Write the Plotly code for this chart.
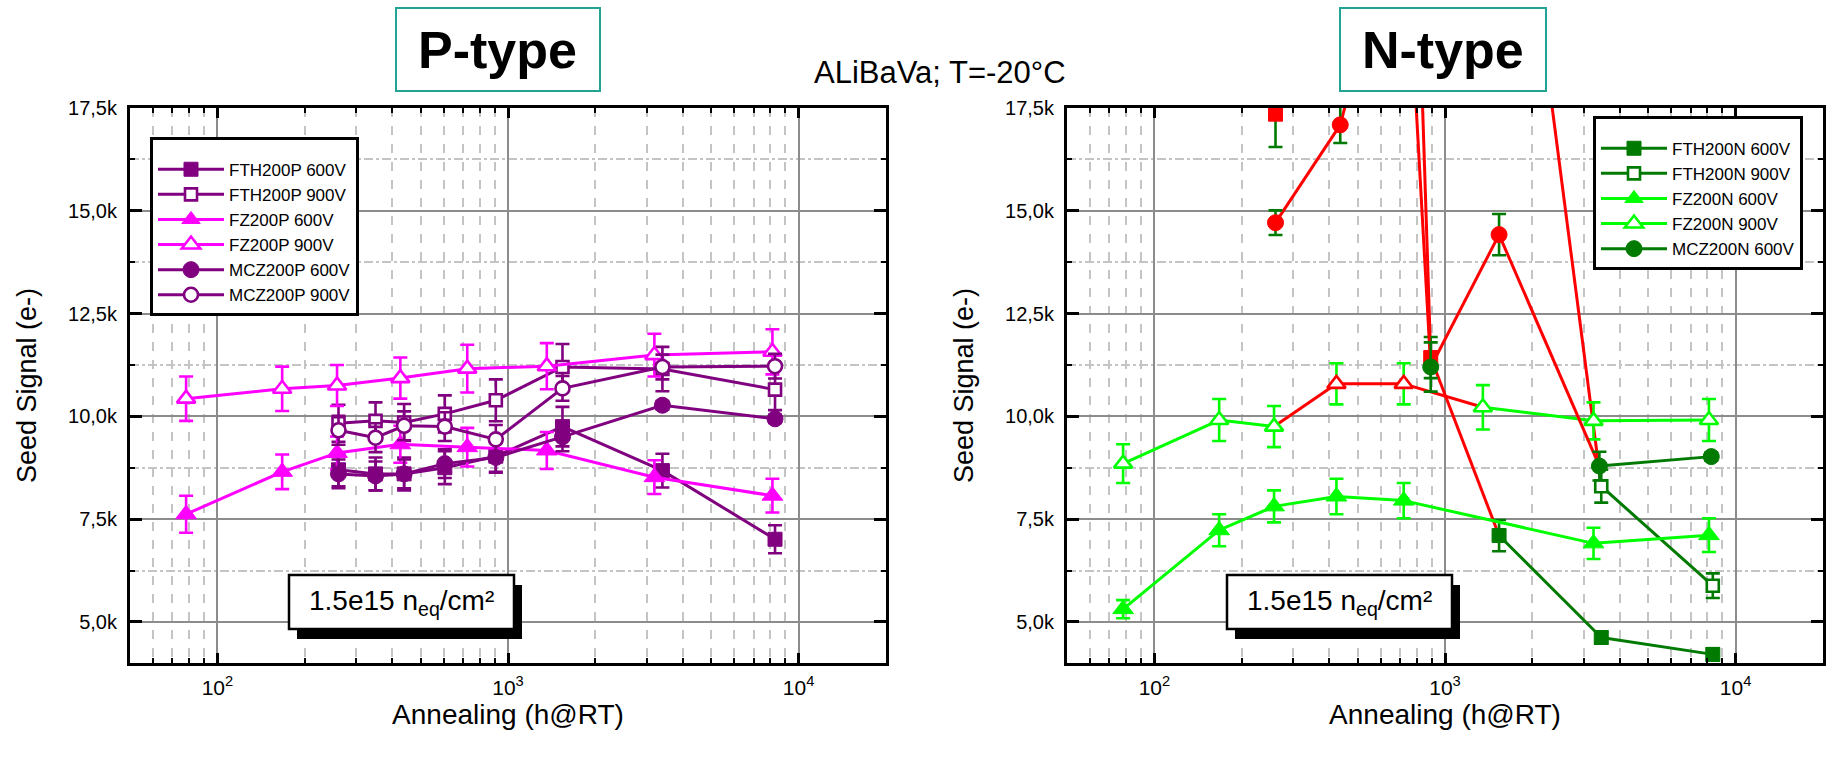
import math
import plotly.graph_objects as go

W, H = 1829, 757
FONT = "Liberation Sans, Arial, sans-serif"

# ---------------- P-type sensors (annealing time h@RT, seed signal in k e-) ----------------
p_time_fz = [78, 167, 258, 426, 724, 1360, 3190, 8130]
p_time_fth = [261, 350, 439, 606, 908, 1540, 3400, 8300]

p_fth600 = [8.70, 8.60, 8.60, 8.75, 9.03, 9.75, 8.68, 7.01]
p_fth600_err = [0.40, 0.40, 0.40, 0.40, 0.40, 0.48, 0.41, 0.34]
p_fth900 = [9.83, 9.89, 9.85, 10.06, 10.39, 11.20, 11.15, 10.65]
p_fth900_err = [0.45, 0.45, 0.45, 0.45, 0.51, 0.56, 0.54, 0.50]
p_fz600 = [7.62, 8.65, 9.11, 9.32, 9.25, 9.17, 8.52, 8.07]
p_fz600_err = [0.45, 0.42, 0.40, 0.45, 0.47, 0.45, 0.41, 0.41]
p_fz900 = [10.43, 10.67, 10.75, 10.93, 11.16, 11.22, 11.49, 11.57]
p_fz900_err = [0.54, 0.54, 0.50, 0.50, 0.58, 0.56, 0.52, 0.55]
p_mcz600 = [8.60, 8.55, 8.60, 8.85, 9.00, 9.50, 10.27, 9.94]
p_mcz600_err = [0.35, 0.35, 0.35, 0.35, 0.35, 0.35, 0.10, 0.10]
p_mcz900 = [9.66, 9.48, 9.77, 9.75, 9.44, 10.68, 11.20, 11.22]
p_mcz900_err = [0.35, 0.35, 0.35, 0.35, 0.35, 0.30, 0.30, 0.30]

# ---------------- N-type sensors ----------------
# flag 1 = point/segment drawn in red
n_fth600_t = [261, 720, 893, 1535, 3450, 8350]
n_fth600 = [17.35, 31.8, 11.43, 7.10, 4.62, 4.21]
n_fth600_err = [0.80, 0.50, 0.50, 0.38, 0.15, 0.15]
n_fth600_red = [1, 1, 1, 0, 0, 0]

n_fth900_t = [1540, 3450, 8350]
n_fth900 = [27.4, 8.30, 5.88]
n_fth900_err = [0.50, 0.40, 0.30]
n_fth900_red = [1, 0, 0]

n_fz600_t = [78, 167, 258, 423, 721, 3245, 8100]
n_fz600 = [5.31, 7.23, 7.81, 8.05, 7.95, 6.91, 7.11]
n_fz600_err = [0.22, 0.39, 0.39, 0.43, 0.43, 0.38, 0.41]
n_fz600_red = [0, 0, 0, 0, 0, 0, 0]

n_fz900_t = [78, 167, 258, 423, 721, 1350, 3245, 8100]
n_fz900 = [8.85, 9.91, 9.75, 10.79, 10.79, 10.22, 9.89, 9.91]
n_fz900_err = [0.47, 0.51, 0.50, 0.50, 0.50, 0.54, 0.45, 0.51]
n_fz900_red = [0, 0, 0, 1, 1, 0, 0, 0]

n_mcz600_t = [261, 436, 720, 893, 1535, 3400, 8250]
n_mcz600 = [14.71, 17.09, 23.0, 11.20, 14.42, 8.79, 9.02]
n_mcz600_err = [0.30, 0.44, 0.50, 0.60, 0.50, 0.35, 0.10]
n_mcz600_red = [1, 1, 1, 0, 1, 0, 0]

# ---------------- axes ----------------
x_range = [50, 20000]
y_range = [4.0, 17.5]
x_major = [100, 1000, 10000]
x_major_text = ["10<sup>2</sup>", "10<sup>3</sup>", "10<sup>4</sup>"]
y_major = [5.0, 7.5, 10.0, 12.5, 15.0, 17.5]
y_major_text = ["5,0k", "7,5k", "10,0k", "12,5k", "15,0k", "17,5k"]

PURPLE = "#800080"
MAGENTA = "#ff00ff"
DGREEN = "#007a00"
LIME = "#00ff00"
RED = "#ff0000"
TEAL = "#22a394"


def px_x(v):
    return v / W


def px_y(v):
    return 1 - v / H


fig = go.Figure()


def marker_style(symbol, color, open_):
    size = {"square": 14, "circle": 16, "triangle-up": 18}[symbol]
    if open_:
        return dict(symbol=symbol, size=size - 2, color="white",
                    line=dict(color=color, width=2.6))
    return dict(symbol=symbol, size=size, color=color, line=dict(color=color, width=1))


def add_p(name, t, y, err, color, symbol, open_):
    fig.add_trace(go.Scatter(
        x=t, y=y, name=name, mode="lines+markers",
        line=dict(color=color, width=3),
        marker=marker_style(symbol, color, open_),
        error_y=dict(type="data", array=err, color=color, thickness=2.6, width=7),
        xaxis="x", yaxis="y", legend="legend"))


add_p("FTH200P 600V", p_time_fth, p_fth600, p_fth600_err, PURPLE, "square", False)
add_p("FTH200P 900V", p_time_fth, p_fth900, p_fth900_err, PURPLE, "square", True)
add_p("FZ200P 600V", p_time_fz, p_fz600, p_fz600_err, MAGENTA, "triangle-up", False)
add_p("FZ200P 900V", p_time_fz, p_fz900, p_fz900_err, MAGENTA, "triangle-up", True)
add_p("MCZ200P 600V", p_time_fth, p_mcz600, p_mcz600_err, PURPLE, "circle", False)
add_p("MCZ200P 900V", p_time_fth, p_mcz900, p_mcz900_err, PURPLE, "circle", True)


def add_n(name, t, y, err, red, color, symbol, open_):
    gx, gy, rx, ry = [], [], [], []
    for i in range(len(t) - 1):
        if red[i] or red[i + 1]:
            rx += [t[i], t[i + 1], None]
            ry += [y[i], y[i + 1], None]
        else:
            gx += [t[i], t[i + 1], None]
            gy += [y[i], y[i + 1], None]
    fig.add_trace(go.Scatter(x=gx, y=gy, mode="lines", line=dict(color=color, width=3),
                             showlegend=False, hoverinfo="skip", xaxis="x2", yaxis="y2"))
    fig.add_trace(go.Scatter(x=rx, y=ry, mode="lines", line=dict(color=RED, width=3),
                             showlegend=False, hoverinfo="skip", xaxis="x2", yaxis="y2"))
    base = marker_style(symbol, color, open_)
    cols = [RED if r else color for r in red]
    if open_:
        base["line"] = dict(color=cols, width=2.6)
    else:
        base["color"] = cols
        base["line"] = dict(color=cols, width=1)
    fig.add_trace(go.Scatter(
        x=t, y=y, mode="markers", marker=base, showlegend=False,
        error_y=dict(type="data", array=err, color=color, thickness=2.6, width=7),
        xaxis="x2", yaxis="y2"))
    # legend entry
    fig.add_trace(go.Scatter(
        x=[None], y=[None], name=name, mode="lines+markers",
        line=dict(color=color, width=3), marker=marker_style(symbol, color, open_),
        xaxis="x2", yaxis="y2", legend="legend2"))


add_n("FTH200N 600V", n_fth600_t, n_fth600, n_fth600_err, n_fth600_red, DGREEN, "square", False)
add_n("FTH200N 900V", n_fth900_t, n_fth900, n_fth900_err, n_fth900_red, DGREEN, "square", True)
add_n("FZ200N 600V", n_fz600_t, n_fz600, n_fz600_err, n_fz600_red, LIME, "triangle-up", False)
add_n("FZ200N 900V", n_fz900_t, n_fz900, n_fz900_err, n_fz900_red, LIME, "triangle-up", True)
add_n("MCZ200N 600V", n_mcz600_t, n_mcz600, n_mcz600_err, n_mcz600_red, DGREEN, "circle", False)

x_minor = [m * 10 ** e for e in range(1, 5) for m in range(2, 10)
           if x_range[0] < m * 10 ** e < x_range[1]]
y_minor = [v + 1.25 for v in y_major[:-1]]


def xaxis_cfg(domain, anchor):
    return dict(
        domain=domain, anchor=anchor, type="log",
        range=[math.log10(x_range[0]), math.log10(x_range[1])],
        tickmode="array", tickvals=x_major, ticktext=x_major_text,
        ticks="inside", ticklen=10, tickwidth=2.5, tickcolor="black",
        showline=True, linecolor="black", linewidth=3, mirror="ticks",
        showgrid=True, gridcolor="#8c8c8c", gridwidth=2, zeroline=False,
        minor=dict(tickmode="array", tickvals=x_minor, ticks="inside", ticklen=5,
                   tickwidth=2, tickcolor="black", showgrid=True,
                   gridcolor="#c4c4c4", gridwidth=1.6, griddash="dash"),
        tickfont=dict(family=FONT, size=21, color="black"),
        title=dict(text="Annealing (h@RT)", font=dict(family=FONT, size=28, color="black"),
                   standoff=6),
        automargin=False, ticklabelstandoff=4)


def yaxis_cfg(domain, anchor):
    return dict(
        domain=domain, anchor=anchor, range=y_range,
        tickmode="array", tickvals=y_major, ticktext=y_major_text,
        ticks="inside", ticklen=12, tickwidth=2.5, tickcolor="black",
        showline=True, linecolor="black", linewidth=3, mirror="ticks",
        showgrid=True, gridcolor="#8c8c8c", gridwidth=2, zeroline=False,
        minor=dict(tickmode="array", tickvals=y_minor, ticks="inside", ticklen=5,
                   tickwidth=2, tickcolor="black", showgrid=True,
                   gridcolor="#c4c4c4", gridwidth=1.6, griddash="dashdot"),
        tickfont=dict(family=FONT, size=20, color="black"),
        title=dict(text="Seed Signal (e-)", font=dict(family=FONT, size=27, color="black"),
                   standoff=24),
        automargin=False, ticklabelstandoff=6)


ydom = [px_y(663), px_y(108)]
legend_style = dict(bgcolor="white", bordercolor="black", borderwidth=3,
                    font=dict(family=FONT, size=17, color="black"),
                    xanchor="left", yanchor="top", tracegroupgap=0, itemwidth=66,
                    title=dict(text=" ", font=dict(family=FONT, size=9)))

fig.update_layout(
    width=W, height=H, margin=dict(l=0, r=0, t=0, b=0),
    paper_bgcolor="white", plot_bgcolor="white", template="none",
    xaxis=xaxis_cfg([px_x(130), px_x(886)], "y"),
    yaxis=yaxis_cfg(ydom, "x"),
    xaxis2=xaxis_cfg([px_x(1067), px_x(1823)], "y2"),
    yaxis2=yaxis_cfg(ydom, "x2"),
    legend=dict(x=px_x(150), y=px_y(137), **legend_style),
    legend2=dict(x=px_x(1593), y=px_y(116), **legend_style),
)

shapes = []
annotations = []

# panel headings in framed boxes
for label, x0, x1 in [("P-type", 396, 600), ("N-type", 1340, 1546)]:
    shapes.append(dict(type="rect", xref="paper", yref="paper",
                       x0=px_x(x0), x1=px_x(x1), y0=px_y(91), y1=px_y(8),
                       line=dict(color=TEAL, width=2), fillcolor="white"))
    annotations.append(dict(text="<b>" + label + "</b>", xref="paper", yref="paper",
                            x=px_x((x0 + x1) / 2), y=px_y(50), showarrow=False,
                            xanchor="center", yanchor="middle",
                            font=dict(family=FONT, size=52, color="black")))

annotations.append(dict(text="ALiBaVa; T=-20°C", xref="paper", yref="paper",
                        x=px_x(940), y=px_y(72), showarrow=False,
                        xanchor="center", yanchor="middle",
                        font=dict(family=FONT, size=31, color="black")))

# fluence boxes with drop shadow
for bx in [289, 1227]:
    shapes.append(dict(type="rect", xref="paper", yref="paper", layer="above",
                       x0=px_x(bx + 8), x1=px_x(bx + 233), y0=px_y(639), y1=px_y(585),
                       line=dict(width=0), fillcolor="black"))
    shapes.append(dict(type="rect", xref="paper", yref="paper", layer="above",
                       x0=px_x(bx), x1=px_x(bx + 225), y0=px_y(629), y1=px_y(575),
                       line=dict(color="black", width=2.5), fillcolor="white"))
    annotations.append(dict(text="1.5e15 n<sub>eq</sub>/cm²", xref="paper", yref="paper",
                            x=px_x(bx + 112), y=px_y(602), showarrow=False,
                            xanchor="center", yanchor="middle",
                            font=dict(family=FONT, size=28, color="black")))

fig.update_layout(shapes=shapes, annotations=annotations)
fig.write_html("out.html")
